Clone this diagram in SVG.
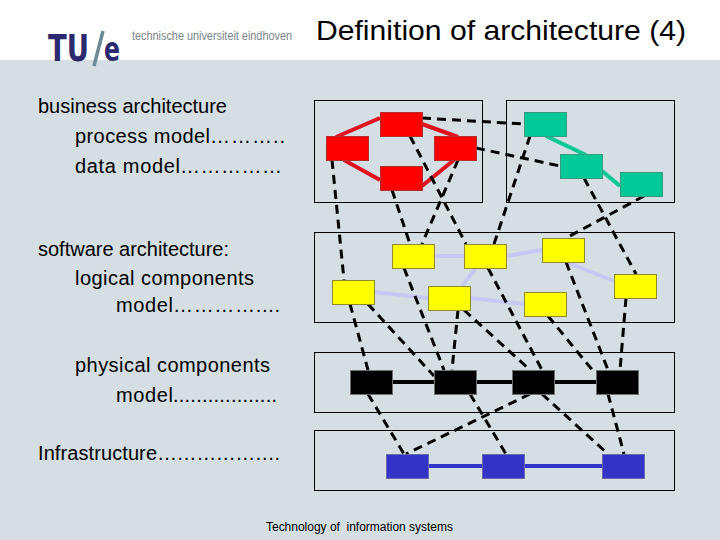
<svg xmlns="http://www.w3.org/2000/svg" width="720" height="540" viewBox="0 0 720 540">
<style>
text{font-family:"Liberation Sans",Arial,sans-serif;fill:#000}
.l{font-size:20px}
.box{fill:none;stroke:#000;stroke-width:1}
.n{stroke-width:1}
.red{fill:#f00;stroke:#b03030}
.green{fill:#00c896;stroke:#3a9a80}
.yellow{fill:#ff0;stroke:#908a30}
.black{fill:#000;stroke:#707070}
.blue{fill:#3333c8;stroke:#6a6aa8}
.d{stroke:#000;stroke-width:3;stroke-dasharray:9 6;fill:none}
.s{fill:none;stroke-width:4}
</style>
<rect width="720" height="540" fill="#d4dee3"/>
<rect width="720" height="60" fill="#fff"/>
<g id="logo">
<text x="48" y="61" style="font-family:'DejaVu Sans',sans-serif;font-size:38px;font-weight:bold;fill:#2b2a6e" textLength="41" lengthAdjust="spacingAndGlyphs">TU</text>
<path d="M103 31 L94 66" stroke="#6b8a96" stroke-width="3.500" fill="none"/>
<text x="104" y="61" style="font-family:'DejaVu Sans',sans-serif;font-size:34px;font-weight:bold;fill:#2b2a6e" textLength="16" lengthAdjust="spacingAndGlyphs">e</text>
<text x="132" y="40" style="font-size:12.500px;fill:#7a858a" textLength="160" lengthAdjust="spacingAndGlyphs">technische universiteit eindhoven</text>
</g>
<text x="316" y="40" style="font-size:27.500px" textLength="370" lengthAdjust="spacingAndGlyphs">Definition of architecture (4)</text>
<g id="labels">
<text class="l" x="38" y="113">business architecture</text>
<text class="l" y="143"><tspan x="75" textLength="135">process model</tspan><tspan x="210" textLength="75">………..</tspan></text>
<text class="l" y="173"><tspan x="75" textLength="105">data model</tspan><tspan x="180" textLength="102">……………</tspan></text>
<text class="l" x="38" y="256" textLength="191">software architecture:</text>
<text class="l" x="75" y="285" textLength="179">logical components</text>
<text class="l" y="312"><tspan x="116" textLength="57">model</tspan><tspan x="173" textLength="107">…………....</tspan></text>
<text class="l" x="75" y="372" textLength="195">physical components</text>
<text class="l" y="402"><tspan x="116" textLength="57">model</tspan><tspan x="173" textLength="104">..................</tspan></text>
<text class="l" y="460"><tspan x="38" textLength="119">Infrastructure</tspan><tspan x="157" textLength="123">……………….</tspan></text>
<text x="266" y="531" xml:space="preserve" style="font-size:12px;white-space:pre" textLength="187">Technology of  information systems</text>
</g>
<g id="layers">
<rect class="box" x="314.500" y="100.500" width="168" height="102"/>
<rect class="box" x="506.500" y="100.500" width="168" height="102"/>
<rect class="box" x="314.500" y="232.500" width="360" height="90"/>
<rect class="box" x="314.500" y="352.500" width="360" height="60"/>
<rect class="box" x="314.500" y="430.500" width="360" height="60"/>
</g>
<g id="connectors">
<g class="s" stroke="#e01020">
<path d="M380 118L336 137M422 124L458 137M344 160L380 180M454 160L422 186"/>
</g>
<g class="s" stroke="#00c896">
<path d="M546 136L586 155M602 171L620 186"/>
</g>
<g class="s" stroke="#c8c8f4">
<path d="M434 256L464 256M506 256L542 250M374 292L428 298M470 298L524 304M476 268L462 286M566 262L614 281"/>
</g>
<path class="s" stroke="#000" d="M392 382L596 382"/>
<path class="s" stroke="#3333c8" d="M428 466L602 466"/>
<g class="d">
<path d="M422 118L524 124"/>
<path d="M476 148L560 166"/>
<path d="M530 136L494 244"/>
<path d="M410 136L466 244"/>
<path d="M458 160L422 244"/>
<path d="M392 190L410 244"/>
<path d="M332 160L344 280"/>
<path d="M584 178L636 274"/>
<path d="M644 196L566 238"/>
<path d="M350 304L368 370"/>
<path d="M368 304L434 376"/>
<path d="M404 268L444 370"/>
<path d="M458 310L452 370"/>
<path d="M464 310L530 370"/>
<path d="M488 268L542 370"/>
<path d="M548 316L594 372"/>
<path d="M566 262L608 370"/>
<path d="M626 298L620 370"/>
<path d="M368 394L404 454"/>
<path d="M470 394L506 454"/>
<path d="M530 394L406 454"/>
<path d="M542 394L608 454"/>
<path d="M608 394L624 454"/>
</g>
</g>
<g id="red1"><rect class="n red" x="380.500" y="112.500" width="42" height="24"/></g>
<g id="red2"><rect class="n red" x="326.500" y="136.500" width="42" height="24"/></g>
<g id="red3"><rect class="n red" x="434.500" y="136.500" width="42" height="24"/></g>
<g id="red4"><rect class="n red" x="380.500" y="166.500" width="42" height="24"/></g>
<g id="green1"><rect class="n green" x="524.500" y="112.500" width="42" height="24"/></g>
<g id="green2"><rect class="n green" x="560.500" y="154.500" width="42" height="24"/></g>
<g id="green3"><rect class="n green" x="620.500" y="172.500" width="42" height="24"/></g>
<g id="yellow1"><rect class="n yellow" x="392.500" y="244.500" width="42" height="24"/></g>
<g id="yellow2"><rect class="n yellow" x="464.500" y="244.500" width="42" height="24"/></g>
<g id="yellow3"><rect class="n yellow" x="542.500" y="238.500" width="42" height="24"/></g>
<g id="yellow4"><rect class="n yellow" x="332.500" y="280.500" width="42" height="24"/></g>
<g id="yellow5"><rect class="n yellow" x="428.500" y="286.500" width="42" height="24"/></g>
<g id="yellow6"><rect class="n yellow" x="524.500" y="292.500" width="42" height="24"/></g>
<g id="yellow7"><rect class="n yellow" x="614.500" y="274.500" width="42" height="24"/></g>
<g id="black1"><rect class="n black" x="350.500" y="370.500" width="42" height="24"/></g>
<g id="black2"><rect class="n black" x="434.500" y="370.500" width="42" height="24"/></g>
<g id="black3"><rect class="n black" x="512.500" y="370.500" width="42" height="24"/></g>
<g id="black4"><rect class="n black" x="596.500" y="370.500" width="42" height="24"/></g>
<g id="blue1"><rect class="n blue" x="386.500" y="454.500" width="42" height="24"/></g>
<g id="blue2"><rect class="n blue" x="482.500" y="454.500" width="42" height="24"/></g>
<g id="blue3"><rect class="n blue" x="602.500" y="454.500" width="42" height="24"/></g>
</svg>
